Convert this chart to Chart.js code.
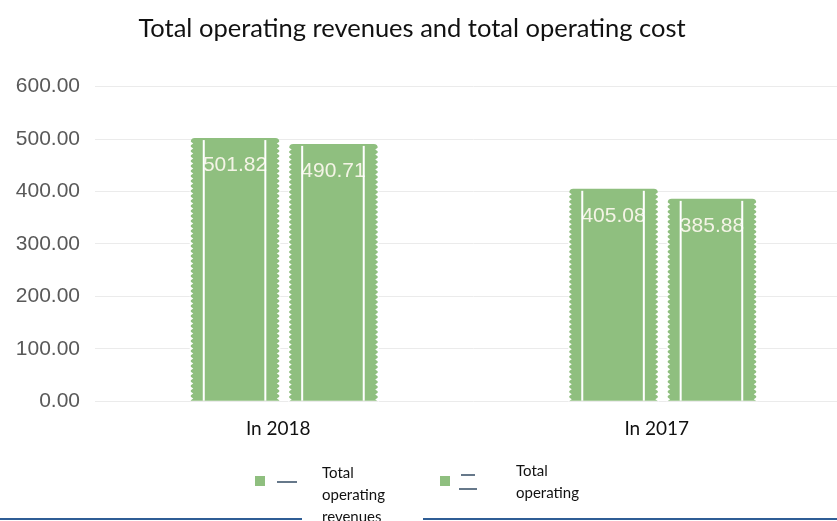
<!DOCTYPE html>
<html>
<head>
<meta charset="utf-8">
<script src="https://cdn.jsdelivr.net/npm/chart.js@4/dist/chart.umd.min.js"></script>
<style>
  html, body { margin: 0; padding: 0; background: #fff; overflow: hidden; width: 837px; height: 521px; }
  /* canvas shifted left so the centred title lands where the original has it */
  #wrap { position: absolute; left: -28px; top: 0; width: 880px; height: 460px; }
  .lg { position: absolute; font-family: Lato, "Open Sans", sans-serif; font-size: 15px; line-height: 22px; color: #111; }
  .sq { position: absolute; width: 10px; height: 10px; background: #8fbf7f; }
  .dash { position: absolute; height: 2px; background: #66788a; }
  .blue { position: absolute; top: 518px; height: 2px; background: #2f5d95; }
</style>
</head>
<body>
<div id="wrap"><canvas id="revenueChart" width="880" height="460"></canvas></div>

<!-- legend, drawn as plain html so the labels can wrap -->
<div class="sq" style="left:255px; top:476px;"></div>
<div class="dash" style="left:277px; top:481px; width:20px;"></div>
<div class="lg" style="left:322px; top:461px; width:80px;">Total<br>operating<br>revenues</div>

<div class="sq" style="left:440px; top:476px;"></div>
<div class="dash" style="left:461px; top:474px; width:14px;"></div>
<div class="dash" style="left:459px; top:488px; width:18px;"></div>
<div class="lg" style="left:516px; top:459px; width:80px; height:46px; overflow:hidden;">Total<br>operating<br>costs</div>

<div class="blue" style="left:0; width:302px;"></div>
<div class="blue" style="left:423px; width:414px;"></div>

<script>
// Data
const years = ['In 2018', 'In 2017'];
const revenues = [501.82, 405.08];
const costs = [490.71, 385.88];
const yTicks = [0, 100, 200, 300, 400, 500, 600];

const barGreen = '#8fbf7f';

// value labels, white stripes and notched edges on each bar
const barDecor = {
    id: 'barDecor',
    afterDatasetsDraw(chart) {
        const c = chart.ctx;
        chart.data.datasets.forEach((ds, di) => {
            chart.getDatasetMeta(di).data.forEach((bar, i) => {
                const left = bar.x - bar.width / 2;
                const right = bar.x + bar.width / 2;
                const top = bar.y;
                const bottom = bar.base;
                c.save();
                // value
                c.fillStyle = '#f4f4e6';
                c.font = '21px "Liberation Sans", Arial, sans-serif';
                c.textAlign = 'center';
                c.textBaseline = 'middle';
                c.fillText(ds.data[i].toFixed(2), bar.x, top + 27);
                c.fillStyle = '#ffffff';
                // inner stripes
                c.fillRect(left + 12, top + 2, 2, bottom - top - 2);
                c.fillRect(right - 15, top + 2, 2, bottom - top - 2);
                // notches along outer edges
                for (let y = top + 3; y < bottom - 2; y += 5) {
                    c.beginPath();
                    c.moveTo(left - 1, y);
                    c.lineTo(left + 2.5, y + 2.5);
                    c.lineTo(left - 1, y + 5);
                    c.fill();
                    c.beginPath();
                    c.moveTo(right + 1, y);
                    c.lineTo(right - 2.5, y + 2.5);
                    c.lineTo(right + 1, y + 5);
                    c.fill();
                }
                c.restore();
            });
        });
    }
};

const ctx = document.getElementById('revenueChart').getContext('2d');

new Chart(ctx, {
    type: 'bar',
    data: {
        labels: years,
        datasets: [
            {
                label: 'Total operating revenues',
                data: revenues,
                backgroundColor: barGreen,
                borderRadius: { topLeft: 4, topRight: 4 },
                borderSkipped: 'bottom',
                categoryPercentage: 0.52,
                barPercentage: 0.9
            },
            {
                label: 'Total operating costs',
                data: costs,
                backgroundColor: barGreen,
                borderRadius: { topLeft: 4, topRight: 4 },
                borderSkipped: 'bottom',
                categoryPercentage: 0.52,
                barPercentage: 0.9
            }
        ]
    },
    options: {
        responsive: false,
        animation: false,
        layout: {
            padding: { left: 0, right: 0, top: 0, bottom: 4 }
        },
        plugins: {
            legend: { display: false },
            tooltip: { enabled: false },
            title: {
                display: true,
                text: 'Total operating revenues and total operating cost',
                color: '#111',
                font: { family: 'Lato, "Open Sans", sans-serif', size: 25.5, weight: 'normal' },
                padding: { top: 13, bottom: 43 }
            }
        },
        scales: {
            x: {
                grid: { display: false, drawTicks: false },
                border: { display: false },
                ticks: {
                    color: '#111',
                    padding: 16,
                    labelOffset: -6,
                    font: { family: 'Lato, "Open Sans", sans-serif', size: 19 }
                }
            },
            y: {
                min: yTicks[0],
                max: yTicks[yTicks.length - 1],
                afterBuildTicks(scale) {
                    scale.ticks = yTicks.map(v => ({ value: v }));
                },
                afterFit(scale) {
                    scale.width = 123;
                },
                grid: { color: '#ebebeb', drawTicks: false },
                border: { display: false },
                ticks: {
                    color: '#595959',
                    padding: 15,
                    font: { family: '"Liberation Sans", Arial, sans-serif', size: 21 },
                    callback: v => v.toFixed(2)
                }
            }
        }
    },
    plugins: [barDecor]
});
</script>
</body>
</html>
